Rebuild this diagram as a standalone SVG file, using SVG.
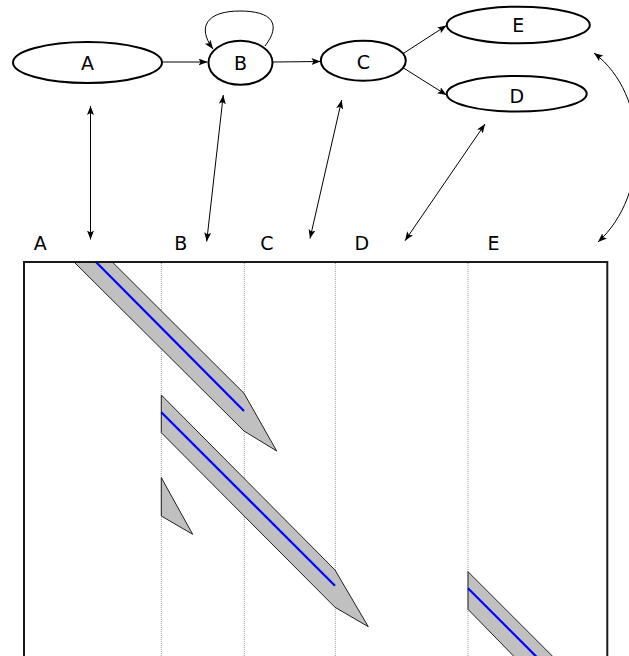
<svg xmlns="http://www.w3.org/2000/svg" width="629" height="656" viewBox="0 0 629 656">
  <style>
    .node { fill: #ffffff; stroke: #000000; stroke-width: 2; }
    .label { font-family: "DejaVu Sans", "Liberation Sans", sans-serif; font-size: 19px; fill: #000000; text-anchor: middle; }
    .edge { fill: none; stroke: #000000; stroke-width: 1; marker-end: url(#head); }
    .link { fill: none; stroke: #000000; stroke-width: 1; marker-start: url(#head); marker-end: url(#head); }
    .frame { fill: none; stroke: #1a1a1a; stroke-width: 2; }
    .divider { stroke: #9a9a9a; stroke-width: 1; stroke-dasharray: 1 1; }
    .band { fill: #c0c0c0; stroke: #202020; stroke-width: 1; stroke-linejoin: miter; }
    .trace { stroke: #0000ff; stroke-width: 2.2; }
  </style>
  <defs>
    <marker id="head" markerUnits="userSpaceOnUse" markerWidth="10" markerHeight="8" refX="9" refY="3.5" orient="auto-start-reverse">
      <path d="M0,0 L9,3.5 L0,7 L2,3.5 z" fill="#000000"/>
    </marker>
  </defs>

  <!-- state graph -->
  <g id="node-A">
    <ellipse class="node" cx="87.5" cy="62.5" rx="74.5" ry="20.5"/>
    <text class="label" x="87.5" y="70">A</text>
  </g>
  <g id="node-B">
    <ellipse class="node" cx="240.5" cy="62.8" rx="32" ry="22" stroke-width="2.4"/>
    <text class="label" x="240.5" y="70">B</text>
  </g>
  <g id="node-C">
    <ellipse class="node" cx="363.3" cy="60.7" rx="42.5" ry="20"/>
    <text class="label" x="363.3" y="69">C</text>
  </g>
  <g id="node-E">
    <ellipse class="node" cx="518.3" cy="25" rx="71.5" ry="18.3"/>
    <text class="label" x="518.3" y="32">E</text>
  </g>
  <g id="node-D">
    <ellipse class="node" cx="516.7" cy="93.8" rx="70" ry="17.8"/>
    <text class="label" x="516.7" y="103">D</text>
  </g>

  <g id="edges">
    <line class="edge" x1="162.5" y1="62" x2="207.5" y2="62"/>
    <path class="edge" d="M265,46 C282,24 272,11 240,11 C208,11 196,26 213,49"/>
    <line class="edge" x1="273" y1="62" x2="320.5" y2="61.5"/>
    <line class="edge" x1="404" y1="53" x2="446.5" y2="25.5"/>
    <line class="edge" x1="403.5" y1="68" x2="446.5" y2="95"/>
  </g>

  <!-- links between states and timeline columns -->
  <g id="links">
    <line class="link" x1="90.5" y1="106" x2="90.5" y2="239.5"/>
    <line class="link" x1="223.3" y1="95" x2="206.7" y2="241.5"/>
    <line class="link" x1="341.7" y1="100" x2="310" y2="238.5"/>
    <line class="link" x1="485" y1="124" x2="405" y2="240.7"/>
    <path class="link" d="M594,53 C650,95 650,195 598,242"/>
  </g>

  <!-- column headings -->
  <g id="columns">
    <text class="label" x="40.2" y="250">A</text>
    <text class="label" x="180.7" y="250">B</text>
    <text class="label" x="267" y="250">C</text>
    <text class="label" x="361.7" y="250">D</text>
    <text class="label" x="493.5" y="250">E</text>
  </g>

  <!-- timeline panel -->
  <g id="timeline">
    <line class="divider" x1="161.3" y1="263" x2="161.3" y2="656"/>
    <line class="divider" x1="244.3" y1="263" x2="244.3" y2="656"/>
    <line class="divider" x1="335.3" y1="263" x2="335.3" y2="656"/>
    <line class="divider" x1="468" y1="263" x2="468" y2="656"/>

    <polygon class="band" points="74,262 112.3,262 244,393.3 276.7,451 244,431"/>
    <line class="trace" x1="96" y1="262" x2="244" y2="411"/>

    <polygon class="band" points="161.3,395 335,570 368.3,626.7 335,607.3 161.3,432.7"/>
    <line class="trace" x1="161.3" y1="412.3" x2="335" y2="585.7"/>

    <polygon class="band" points="161.3,477.7 192.7,534.3 161.3,516"/>

    <polygon class="band" points="468,571.7 600,703.7 560,703.7 468,609.3"/>
    <line class="trace" x1="468" y1="588.3" x2="584" y2="704.3"/>

    <rect class="frame" x="24" y="262" width="583.3" height="420"/>
  </g>
</svg>
